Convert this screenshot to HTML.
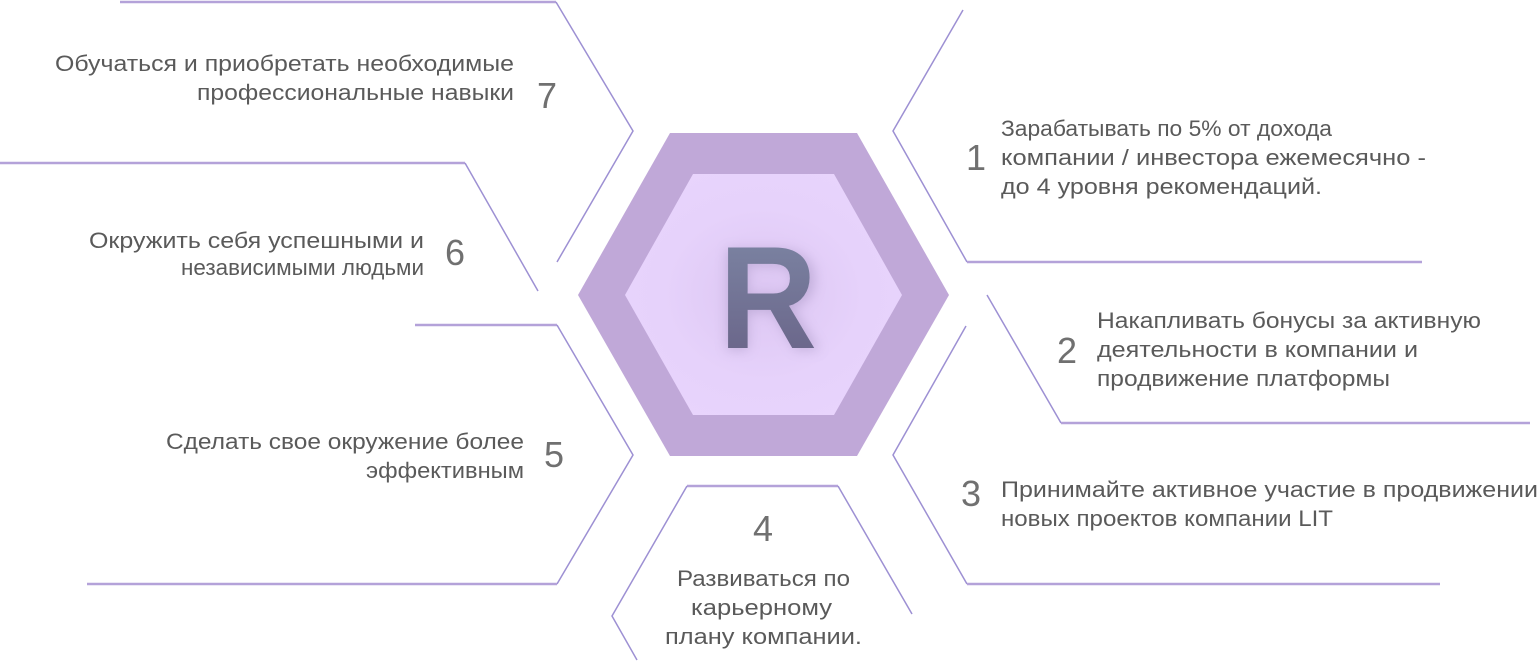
<!DOCTYPE html>
<html><head><meta charset="utf-8"><style>
html,body{margin:0;padding:0;background:#fff;}
svg{display:block;}
text{font-family:"Liberation Sans","DejaVu Sans",sans-serif;fill:#5a5a5a;}
.t{font-size:22px;}
.n{font-size:36px;fill:#707070;}
.d{stroke:#9d90d3;stroke-width:1.5;fill:none;}
.h{stroke:#b4a2d9;stroke-width:2.5;fill:none;}
</style></head><body>
<svg width="1539" height="662" viewBox="0 0 1539 662" xmlns="http://www.w3.org/2000/svg">
<defs>
<radialGradient id="ig" cx="50%" cy="50%" r="60%">
<stop offset="0" stop-color="#dcc6f2"/><stop offset="0.6" stop-color="#e6d2fb"/><stop offset="1" stop-color="#e8d4fc"/>
</radialGradient>
<linearGradient id="rg" x1="0" y1="0" x2="0" y2="1">
<stop offset="0" stop-color="#7e88a6"/><stop offset="1" stop-color="#676085"/>
</linearGradient>
<filter id="sh" x="-30%" y="-30%" width="160%" height="160%"><feGaussianBlur stdDeviation="6"/></filter>
</defs>
<polygon points="578,295 670,133 857,133 949,295 857,456 670,456" fill="#c0a8d8"/>
<polygon points="625,295 693,174 834,174 902,295 834,415 693,415" fill="url(#ig)"/>
<text x="770" y="350" text-anchor="middle" style="font-size:146px;font-weight:bold;fill:#8a7aa8;opacity:0.35" filter="url(#sh)">R</text>
<text x="768" y="348" text-anchor="middle" style="font-size:146px;font-weight:bold;fill:url(#rg)" textLength="98" lengthAdjust="spacingAndGlyphs">R</text>

<line class="h" x1="120" y1="2" x2="556" y2="2"/>
<polyline class="d" points="556,2 633,131 557,262"/>
<line class="h" x1="0" y1="163" x2="465" y2="163"/>
<polyline class="d" points="465,163 538,291"/>
<line class="h" x1="415" y1="325" x2="557" y2="325"/>
<polyline class="d" points="557,325 633,455 557,584"/>
<line class="h" x1="87" y1="584" x2="557" y2="584"/>
<line class="h" x1="687" y1="486" x2="838" y2="486"/>
<polyline class="d" points="838,486 912,614"/>
<polyline class="d" points="687,486 612,616 637,660"/>
<polyline class="d" points="963,10 893,131 967,262"/>
<line class="h" x1="967" y1="262" x2="1422" y2="262"/>
<polyline class="d" points="987,295 1061,423"/>
<line class="h" x1="1061" y1="423" x2="1530" y2="423"/>
<polyline class="d" points="966,326 893,455 967,584"/>
<line class="h" x1="967" y1="584" x2="1440" y2="584"/>

<text class="t" x="55" y="71" textLength="459" lengthAdjust="spacingAndGlyphs">Обучаться и приобретать необходимые</text>
<text class="t" x="197" y="100" textLength="317" lengthAdjust="spacingAndGlyphs">профессиональные навыки</text>
<text class="n" x="537" y="108">7</text>

<text class="t" x="89" y="248" textLength="335" lengthAdjust="spacingAndGlyphs">Окружить себя успешными и</text>
<text class="t" x="181" y="275" textLength="243" lengthAdjust="spacingAndGlyphs">независимыми людьми</text>
<text class="n" x="445" y="265">6</text>

<text class="t" x="166" y="449" textLength="358" lengthAdjust="spacingAndGlyphs">Сделать свое окружение более</text>
<text class="t" x="366" y="478" textLength="158" lengthAdjust="spacingAndGlyphs">эффективным</text>
<text class="n" x="544" y="467">5</text>

<text class="n" x="763" y="541" text-anchor="middle">4</text>
<text class="t" x="677" y="586" textLength="173" lengthAdjust="spacingAndGlyphs">Развиваться по</text>
<text class="t" x="691" y="615" textLength="141" lengthAdjust="spacingAndGlyphs">карьерному</text>
<text class="t" x="665" y="644" textLength="197" lengthAdjust="spacingAndGlyphs">плану компании.</text>

<text class="n" x="966" y="170">1</text>
<text class="t" x="1001" y="136" textLength="331" lengthAdjust="spacingAndGlyphs">Зарабатывать по 5% от дохода</text>
<text class="t" x="1001" y="165" textLength="425" lengthAdjust="spacingAndGlyphs">компании / инвестора ежемесячно -</text>
<text class="t" x="1001" y="194" textLength="321" lengthAdjust="spacingAndGlyphs">до 4 уровня рекомендаций.</text>

<text class="n" x="1057" y="363">2</text>
<text class="t" x="1097" y="328" textLength="384" lengthAdjust="spacingAndGlyphs">Накапливать бонусы за активную</text>
<text class="t" x="1097" y="357" textLength="321" lengthAdjust="spacingAndGlyphs">деятельности в компании и</text>
<text class="t" x="1097" y="386" textLength="293" lengthAdjust="spacingAndGlyphs">продвижение платформы</text>

<text class="n" x="961" y="506">3</text>
<text class="t" x="1001" y="497" textLength="537" lengthAdjust="spacingAndGlyphs">Принимайте активное участие в продвижении</text>
<text class="t" x="1001" y="526" textLength="332" lengthAdjust="spacingAndGlyphs">новых проектов компании LIT</text>
</svg>
</body></html>
